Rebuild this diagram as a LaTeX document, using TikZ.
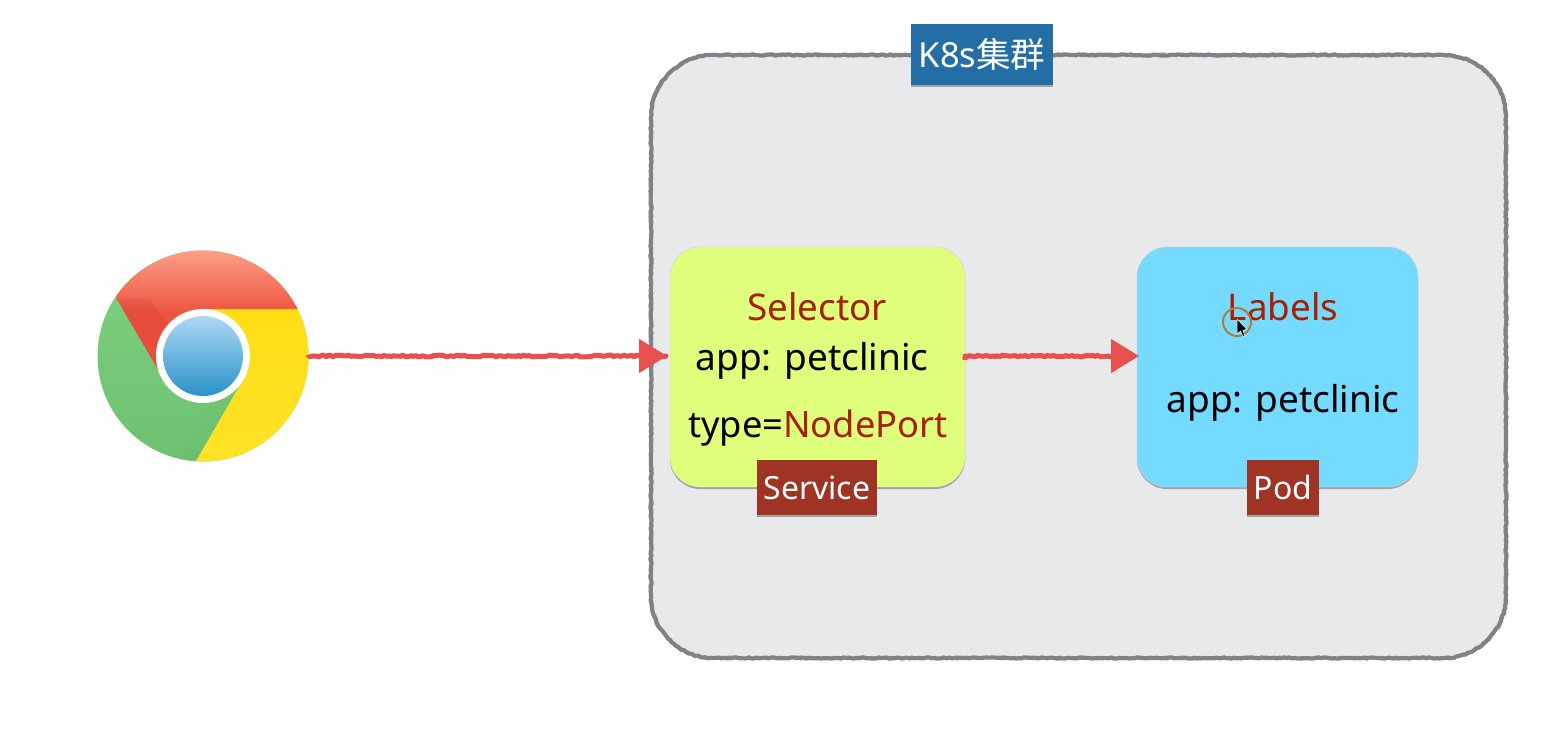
\documentclass[tikz,border=0pt]{standalone}
\usepackage{fontspec}
\setmainfont{Noto Sans}
\newfontfamily\cjkfont{Noto Sans CJK SC}
\usetikzlibrary{arrows.meta,decorations.pathmorphing,shadows,shapes.geometric,calc}
\definecolor{pagebg}{HTML}{FEFEFE}
\definecolor{clusterfill}{HTML}{E8E9EB}
\definecolor{clusteredge}{HTML}{808285}
\definecolor{lime}{HTML}{DFFF7C}
\definecolor{sky}{HTML}{74DAFF}
\definecolor{tagblue}{HTML}{236FA5}
\definecolor{tagred}{HTML}{A03424}
\definecolor{darkred}{HTML}{A81E00}
\definecolor{arrowred}{HTML}{E8504F}
\definecolor{logogreenA}{HTML}{7ED27F}
\definecolor{logogreenB}{HTML}{6CC070}
\definecolor{logoyellowA}{HTML}{FFDE14}
\definecolor{logoyellowB}{HTML}{FFEA0A}
\definecolor{logoyellowC}{HTML}{FFE228}
\definecolor{logoredA}{HTML}{FF9F88}
\definecolor{logoredB}{HTML}{EC5540}
\definecolor{logoblueA}{HTML}{ADD8F5}
\definecolor{logoblueB}{HTML}{2A92C8}
\definecolor{pointerring}{HTML}{B07A3A}
\newcommand{\clusterpath}{(713,55) -- (1444,55) .. controls (1478,55) and (1506,83) .. (1506,117) -- (1506,596) .. controls (1506,630) and (1478,658) .. (1444,658) -- (713,658) .. controls (679,658) and (651,630) .. (651,596) -- (651,117) .. controls (651,83) and (679,55) .. (713,55) -- cycle}
\tikzset{
  fs/.style={font=\fontsize{#1}{#1}\selectfont},
  softshadow/.style={drop shadow={shadow xshift=0pt,shadow yshift=-2pt,opacity=.3,fill=black}},
  cardbox/.style={rounded corners=30pt,inner sep=0pt,outer sep=0pt,draw=black!18,line width=.4pt,softshadow},
  tagbox/.style={inner sep=0pt,outer sep=0pt,text=white,softshadow,fs=#1},
  bodytext/.style={inner sep=0pt,text=black,fs=37,anchor=base},
  redtext/.style={inner sep=0pt,text=darkred,fs=36.8,anchor=base},
  sketch/.style={decorate,decoration={random steps,segment length=2.5pt,amplitude=#1,post=lineto,post length=4pt}},
  redarrow/.style={draw=arrowred,line width=5pt,line join=round,sketch=.9,-{Triangle[length=28pt,width=33pt]}},
}
\pgfmathsetseed{7}
\begin{document}
\begin{tikzpicture}[x=1pt,y=-1pt]
\useasboundingbox (0,0) rectangle (1564,732);
\fill[pagebg] (0,0) rectangle (1564,732);

% cluster
\fill[clusterfill] \clusterpath;
\draw[clusteredge!65,line width=1.4pt,line join=round,sketch=2] \clusterpath;
\draw[clusteredge,line width=4.2pt,line join=round,sketch=.6] \clusterpath;

% chrome logo
\node[circle,minimum size=211pt,inner sep=0pt,outer sep=0pt] (chrome) at (203,356) {};
\begin{scope}
  \clip (chrome.center) circle (105.5pt);
  \shade[top color=logogreenA,bottom color=logogreenB] (90,240) rectangle (320,470);
  \fill[black!45!green!60,opacity=.15] (196,461) -- (236,392) -- (212,400) -- (178,462) -- cycle;
  \begin{scope}
    \clip (203,309) -- (340,309) -- (340,520) -- (176,496) -- (248,371) -- cycle;
    \shade[top color=logoyellowA,middle color=logoyellowB,bottom color=logoyellowC] (90,309) rectangle (320,462);
  \end{scope}
  \begin{scope}
    \clip (90,253) -- (90,240) -- (340,240) -- (340,309) -- (203,309) -- (168,387) -- cycle;
    \shade[top color=logoredA,bottom color=logoredB] (90,250) rectangle (320,312);
    \fill[logoredB] (90,312) rectangle (320,400);
  \end{scope}
  \fill[red!55!black,opacity=.08] (116,298) -- (160,372) -- (172,330) -- (150,300) -- cycle;
\end{scope}
\fill[white] (chrome.center) circle (47pt);
\shade[top color=logoblueA,bottom color=logoblueB] (chrome.center) circle (40pt);

% service
\node[cardbox,fill=lime,minimum width=295pt,minimum height=240pt] (service) at (817.5,367) {};
\node[redtext] (selector) at (817,320) {Selector};
\node[bodytext] (svcapp) at (812,370) {app: petclinic};
\node[bodytext,fs=36.3,anchor=base west] (svctype) at (688,437) {type=\textcolor{darkred}{NodePort}};
\node[tagbox=32,fill=tagred,minimum width=120pt,minimum height=55pt] (svctag) at (817,487.5) {Service};

% pod
\node[cardbox,fill=sky,minimum width=281pt,minimum height=240pt] (pod) at (1277.5,367) {};
\node[redtext] (labels) at (1283,320) {Labels};
\node[bodytext] (podapp) at (1283,412) {app: petclinic};
\node[tagbox=32,fill=tagred,minimum width=72pt,minimum height=55pt] (podtag) at (1283,487.5) {Pod};

% cluster tag
\node[tagbox=34.5,fill=tagblue,minimum width=142pt,minimum height=61pt] (k8s) at (982,54.5) {K8s{\cjkfont 集群}};

% connectors
\coordinate (in1) at (service.west |- chrome.east);
\coordinate (out1) at (service.east |- chrome.east);
\coordinate (in2) at (pod.west |- chrome.east);
\draw[redarrow,shorten >=3pt,shorten <=1pt] (chrome.east) -- (in1);
\draw[redarrow,shorten >=-2pt,shorten <=-4pt] (out1) -- (in2);

% pointer
\node[circle,draw=pointerring,line width=2pt,minimum size=28pt,inner sep=0pt] (pointer) at (1237,322) {};
\fill[black,draw=white,line width=.5pt] (1237,319) -- (1237,334) -- (1240.5,331) -- (1243,336.5) -- (1245,335.5) -- (1242.8,330.2) -- (1247,329.5) -- cycle;
\end{tikzpicture}
\end{document}
